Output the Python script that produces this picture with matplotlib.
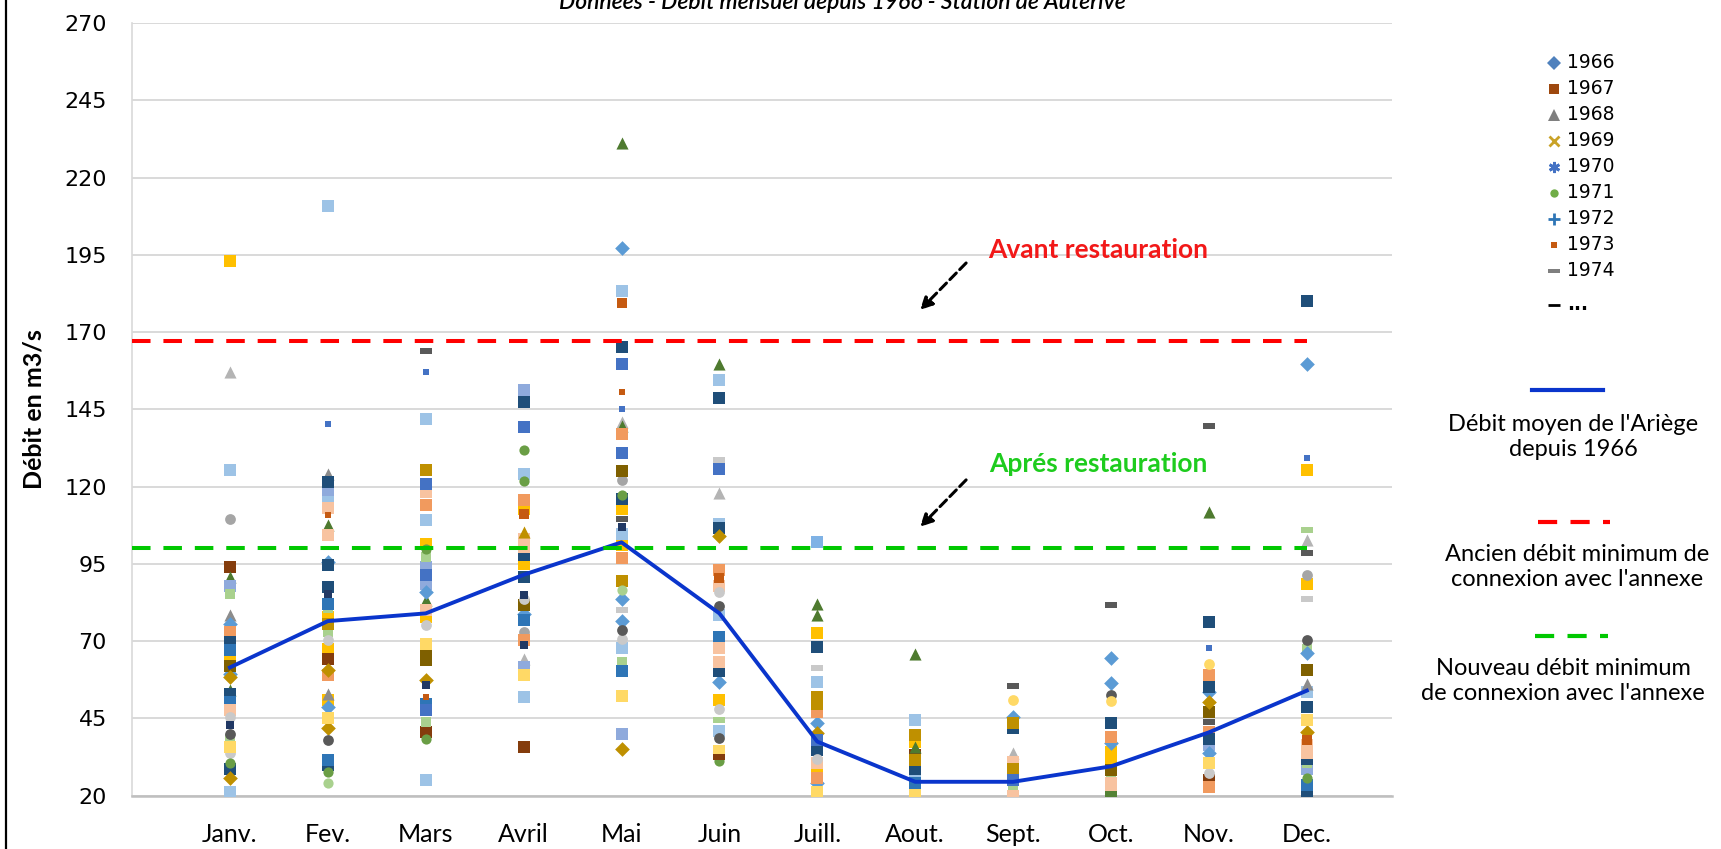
import matplotlib
matplotlib.use("Agg")
import matplotlib.pyplot as plt
from matplotlib.lines import Line2D

W, H = 1721, 849

# ---------------- data ----------------
months = ['Janv.', 'Fev.', 'Mars', 'Avril', 'Mai', 'Juin', 'Juill.', 'Aout.',
          'Sept.', 'Oct.', 'Nov.', 'Dec.']
mean_flow = [61.5, 76.5, 79, 91.5, 102, 79, 37.5, 24.5, 24.5, 29.5, 40.5, 54]
old_threshold = 167
new_threshold = 100.3
y_ticks = [20, 45, 70, 95, 120, 145, 170, 195, 220, 245, 270]
legend_years = ['1966', '1967', '1968', '1969', '1970', '1971', '1972', '1973', '1974', '...']

jan_vals = [193, 157, 125.3, 109.5, 94, 90.8, 88, 85.4, 78.4, 75.7, 73, 69.8, 67, 65, 62,
            59.5, 58.5, 54.2, 53, 50.4, 47.7, 45.5, 43, 40, 38.5, 35.8, 33.7, 30.5, 28.8,
            25.6, 21.3]
jan_codes = ['go', 'lgt', 'lb', 'gc', 'br', 'gt', 'pw', 'lgr', 'gr', 'bd', 'or', 'db', 'bs',
             'go', 'ol', 'bd', 'gd', 'gt', 'db', 'bs', 'pe', 'lc', 'nv', 'dk', 'lgr', 'lg',
             'lc', 'gn', 'db', 'gd', 'lb']

feb_vals = [211, 140.4, 124.2, 121.5, 118.8, 116, 113, 111, 107.5, 104.3, 95.6, 94.5, 87.6,
            85.4, 82.2, 80.6, 77.9, 75.7, 73, 70.3, 67.6, 64.4, 60.6, 59, 53, 51, 48.8, 45,
            41.8, 38, 31.5, 30, 27.8, 24]
feb_codes = ['lb', 'sb', 'gr', 'db', 'pw', 'lb', 'pe', 'so', 'gt', 'pe', 'bd', 'db', 'db',
             'nv', 'bs', 'lgr', 'go', 'dg', 'lgr', 'lc', 'go', 'br', 'gd', 'or', 'gr', 'go',
             'bd', 'lg', 'gd', 'dk', 'bs', 'db', 'gn', 'lgn']

mar_vals = [164, 157, 142, 125.3, 121, 118.3, 114, 109.1, 101.6, 100, 97.3, 94, 91.3, 88.6,
            86, 83.3, 80, 77.9, 75.2, 69.2, 65.5, 63.9, 57.4, 55.8, 52, 49.8, 47.7, 44,
            40.7, 38.5, 25]
mar_codes = ['dd', 'sb', 'lb', 'dg', 'bl', 'pe', 'or', 'lb', 'go', 'gn', 'lgr', 'pw', 'bl',
             'pw', 'bd', 'gt', 'pe', 'go', 'lc', 'lg', 'ol', 'ol', 'gd', 'nv', 'so', 'bs',
             'bl', 'lgr', 'br', 'gn', 'lb']

apr_vals = [151.3, 147.5, 139.4, 132, 124.2, 122, 115.6, 112.9, 111.3, 105.3, 103.2, 100.5,
            97.8, 95.1, 90.8, 84.9, 83.8, 81.6, 78.9, 76.8, 73, 70.3, 68.7, 64.4, 61.7, 59,
            52, 35.8]
apr_codes = ['pw', 'db', 'bl', 'gn', 'lb', 'gn', 'or', 'go', 'do', 'dgt', 'pe', 'pe', 'db',
             'go', 'db', 'nv', 'lc', 'ol', 'bd', 'bs', 'gc', 'or', 'nv', 'lgt', 'pw', 'lg',
             'lb', 'br']

may_vals = [231.2, 197.3, 183.2, 179.3, 165.1, 159.7, 150.5, 145.1, 141, 139.6, 137, 130.9,
            125.1, 122.2, 117.2, 116, 112.8, 109.6, 107, 104.8, 101.2, 96.8, 89.6, 86.6,
            83.7, 80, 76.4, 73.5, 70.6, 67.7, 63.4, 60.4, 52.4, 40.1, 35]
may_codes = ['gt', 'bd', 'lb', 'do', 'db', 'bl', 'so', 'sb', 'lgt', 'gt', 'or', 'bl', 'ol',
             'gc', 'gn', 'db', 'go', 'dd', 'nv', 'lb', 'go', 'or', 'dg', 'lgn', 'bd', 'ld',
             'bd', 'dk', 'lc', 'lb', 'lgr', 'bs', 'lg', 'pw', 'gd']

jun_vals = [159.7, 154.6, 148.8, 128.7, 125.8, 117.8, 108, 106.5, 104, 93.1, 90.5, 88, 85.8,
            81.5, 78.6, 71.3, 67.7, 63.4, 60.4, 56.9, 51.1, 48.2, 44.6, 40.9, 38.8, 34.4,
            32.5, 31.1]
jun_codes = ['gt', 'lb', 'db', 'ld', 'bl', 'lgt', 'lb', 'db', 'gd', 'or', 'do', 'pe', 'lc',
             'dk', 'lb', 'bs', 'pe', 'pe', 'db', 'bd', 'go', 'lc', 'lgd', 'lb', 'dk', 'lg',
             'brd', 'gn']

jul_vals = [102.1, 82.2, 78.4, 72.8, 68.2, 61.2, 56.9, 52, 49.8, 47.2, 43.4, 40.2, 38, 34.8,
            32, 30.5, 27.2, 25.6, 24, 21.3]
jul_codes = ['lb2', 'gt', 'gt', 'go', 'db', 'ld', 'lb', 'dg', 'dg', 'or', 'bd', 'gd', 'bl',
             'db', 'lc', 'pe', 'go', 'or', 'bd', 'lg']

aug_vals = [66, 44.5, 39.6, 37.5, 35.8, 33.1, 31.5, 28.8, 26.1, 24, 21.8, 20.2]
aug_codes = ['gt', 'lb', 'dg', 'go', 'gt', 'br', 'dg', 'db', 'lb', 'bs', 'go', 'lg']

sep_vals = [55.5, 50.9, 45.5, 43.4, 41.8, 33.7, 31, 28.8, 27.2, 25, 22.4, 20]
sep_codes = ['dd', 'lgc', 'bd', 'dg', 'db', 'lgt', 'pe', 'dg', 'go', 'bl', 'lgr', 'pe']

oct_vals = [81.6, 64.7, 56.5, 52.5, 50.6, 43.4, 39.1, 36.9, 34.2, 31.5, 28.3, 26.1, 24, 21.8,
            20.5]
oct_codes = ['dd', 'bd', 'bd', 'dk', 'lgc', 'db', 'or', 'bd', 'go', 'go', 'ol', 'lgr', 'pe',
             'pe', 'gd2']

nov_vals = [139.8, 111.8, 76.3, 67.8, 62.6, 59, 55.2, 53.6, 50.4, 47.2, 43.9, 40.7, 38.5,
            36.4, 33.7, 30.5, 27.2, 25, 22.9]
nov_codes = ['dd', 'gt', 'db', 'sb', 'lgc', 'or', 'db', 'bd', 'gd', 'ol', 'dd', 'or', 'db',
             'pw', 'bd', 'lg', 'lc', 'br', 'or']

dec_vals = [180, 159.8, 129.3, 125.3, 105.9, 102.7, 98.6, 91.3, 88.6, 83.8, 70.3, 67.6, 66.2,
            60.6, 56.3, 53.6, 48.8, 44.5, 40.7, 38, 36.4, 33.7, 32, 30.5, 28.8, 25.6, 23.4,
            21.3, 20]
dec_codes = ['db', 'bd', 'sb', 'go', 'lgd', 'lgt', 'dd', 'gc', 'go', 'ld', 'dk', 'lgr', 'bd',
             'ol', 'gr', 'lb', 'db', 'lg', 'gd', 'do', 'pe', 'pe', 'db', 'lgr', 'pw', 'gn',
             'bs', 'db', 'gt']

month_vals = [jan_vals, feb_vals, mar_vals, apr_vals, may_vals, jun_vals, jul_vals, aug_vals,
              sep_vals, oct_vals, nov_vals, dec_vals]
month_codes = [jan_codes, feb_codes, mar_codes, apr_codes, may_codes, jun_codes, jul_codes,
               aug_codes, sep_codes, oct_codes, nov_codes, dec_codes]

# ---------------- styles ----------------
DASH = [(-1, -0.42), (1, -0.42), (1, 0.42), (-1, 0.42), (-1, -0.42)]
styles = {
    'bd': ('D', '#5B9BD5', 56), 'lb': ('s', '#9DC3E6', 72), 'lb2': ('s', '#7FB2E5', 72),
    'db': ('s', '#1F4E79', 72), 'bs': ('s', '#2E75B6', 72), 'bl': ('s', '#4472C4', 72),
    'pw': ('s', '#8FAADC', 72), 'or': ('s', '#F19A5E', 72), 'pe': ('s', '#F8C3A0', 72),
    'do': ('s', '#C55A11', 62), 'br': ('s', '#843C0C', 72), 'go': ('s', '#FFC000', 72),
    'lg': ('s', '#FFD966', 72), 'dg': ('s', '#BF9000', 72), 'ol': ('s', '#7F6000', 72),
    'gd': ('D', '#BF9000', 56), 'gr': ('^', '#8C8C8C', 76), 'lgt': ('^', '#B4B4B4', 76),
    'dgt': ('^', '#BF9000', 76),
    'gt': ('^', '#4E7A2F', 76), 'gc': ('o', '#A5A5A5', 60), 'lc': ('o', '#C9C9C9', 60),
    'dk': ('o', '#595959', 60), 'gn': ('o', '#6A9E45', 54), 'lgn': ('o', '#A9D18E', 54),
    'lgc': ('o', '#FFD966', 60), 'lgr': ('s', '#A9D18E', 60), 'nv': ('s', '#203864', 28),
    'sb': ('s', '#4472C4', 20), 'so': ('s', '#C55A11', 20),
    'dd': (DASH, '#595959', 80), 'ld': (DASH, '#C9C9C9', 80), 'lgd': (DASH, '#A9D18E', 80),
    'brd': (DASH, '#843C0C', 80), 'gd2': (DASH, '#548235', 80),
}

plt.rcParams['font.family'] = ['DejaVu Sans']

fig = plt.figure(figsize=(W / 100, H / 100), dpi=100)
ax = fig.add_axes([132 / W, 53.3 / H, 1260 / W, 772.5 / H])

xs_by_code = {}
for m, (vals, codes) in enumerate(zip(month_vals, month_codes), start=1):
    for v, c in zip(vals, codes):
        xs_by_code.setdefault(c, ([], []))
        xs_by_code[c][0].append(m)
        xs_by_code[c][1].append(v)

for c, (xs, ys) in xs_by_code.items():
    mk, col, s = styles[c]
    ax.scatter(xs, ys, marker=mk, s=s, color=col, linewidths=0, zorder=3)

x_months = list(range(1, 13))
ax.plot(x_months, mean_flow, color='#0A35CC', lw=2.8, zorder=5, solid_joinstyle='round')
ax.plot([0, 12], [old_threshold] * 2, color='#FF0000', lw=2.9, dashes=(4.6, 3.2), zorder=6)
ax.plot([0, 12], [new_threshold] * 2, color='#00C800', lw=2.9, dashes=(4.6, 3.2), zorder=6)

ax.set_xlim(0, 12.87)
ax.set_ylim(20, 270)
ax.set_yticks(y_ticks)
ax.set_xticks(x_months)
ax.set_xticklabels(months, fontfamily='Lato', fontsize=18)
ax.tick_params(axis='x', length=0, pad=20, colors='#000000')
ax.tick_params(axis='y', length=0, pad=18, labelsize=16)
ax.yaxis.grid(True, color='#D9D9D9', lw=1.4)
ax.set_axisbelow(True)
for sp in ['top', 'right']:
    ax.spines[sp].set_visible(False)
ax.spines['left'].set_color('#D9D9D9')
ax.spines['left'].set_linewidth(1.2)
ax.spines['bottom'].set_color('#BFBFBF')
ax.spines['bottom'].set_linewidth(1.8)
ax.set_ylabel('Débit en m3/s', fontfamily='Lato', fontweight='bold', fontsize=18, labelpad=14)

# annotations
ax.text(9.87, 196.5, 'Avant restauration', color='#F21818', fontfamily='Lato',
        fontweight='bold', fontsize=19, ha='center', va='center')
ax.text(9.87, 127.3, 'Aprés restauration', color='#1ECC1E', fontfamily='Lato',
        fontweight='bold', fontsize=19, ha='center', va='center')
for (x0, y0, x1, y1) in [(8.52, 192.4, 8.05, 177.2), (8.52, 122.2, 8.05, 107)]:
    ax.annotate('', xy=(x1, y1), xytext=(x0, y0),
                arrowprops=dict(arrowstyle='-|>', color='black', lw=2.2, linestyle=(0, (3, 1.6)),
                                mutation_scale=18, shrinkA=0, shrinkB=0))

# title (cut off at top, as in the reference)
fig.text(842 / W, 1 - 9 / H, 'Données - Débit mensuel depuis 1966 - Station de Auterive',
         ha='center', va='baseline', fontsize=16.5, style='italic', fontfamily='Lato',
         fontweight='semibold')

# left border
fig.add_artist(Line2D([6 / W, 6 / W], [0, 1], transform=fig.transFigure, color='black', lw=1.6))


def fx(px):
    return px / W


def fy(py):
    return 1 - py / H


# year legend
leg_style = [('D', '#4F81BD', 7), ('s', '#9E480E', 7), ('^', '#7F7F7F', 8), ('x', '#C9A227', 7),
             ((6, 2, 0), '#4472C4', 8), ('o', '#70AD47', 6), ('+', '#2E75B6', 9),
             ('s', '#C55A11', 4), (DASH, '#7F7F7F', 8), ('_', '#000000', 8)]
for i, (lab, (mk, col, ms)) in enumerate(zip(legend_years, leg_style)):
    y = 63 + 26 * i + (8 if i == 9 else 0)
    mew = 2 if mk in ('x', '+', '_') or isinstance(mk, tuple) else 0
    fig.add_artist(Line2D([fx(1554)], [fy(y)], transform=fig.transFigure, marker=mk,
                          color=col, markersize=ms, markeredgewidth=mew, linestyle='none'))
    fig.text(fx(1567), fy(y), lab, fontsize=13.5, va='center', ha='left',
             fontweight='bold' if lab == '...' else 'normal')

# line legends
fig.add_artist(Line2D([fx(1532), fx(1603)], [fy(390)] * 2, transform=fig.transFigure,
                      color='#0A35CC', lw=3))
fig.text(fx(1573), fy(437), "Débit moyen de l'Ariège\ndepuis 1966", ha='center', va='center',
         fontfamily='Lato', fontsize=17, linespacing=1.25)
fig.add_artist(Line2D([fx(1538), fx(1610)], [fy(522)] * 2, transform=fig.transFigure,
                      color='#FF0000', lw=3, dashes=(4.6, 3.2)))
fig.text(fx(1577), fy(567), "Ancien débit minimum de\nconnexion avec l'annexe", ha='center',
         va='center', fontfamily='Lato', fontsize=17, linespacing=1.25)
fig.add_artist(Line2D([fx(1535), fx(1608)], [fy(636)] * 2, transform=fig.transFigure,
                      color='#00C800', lw=3, dashes=(4.6, 3.2)))
fig.text(fx(1563), fy(681), "Nouveau débit minimum\nde connexion avec l'annexe", ha='center',
         va='center', fontfamily='Lato', fontsize=17, linespacing=1.25)

fig.savefig('out.png', dpi=100)
